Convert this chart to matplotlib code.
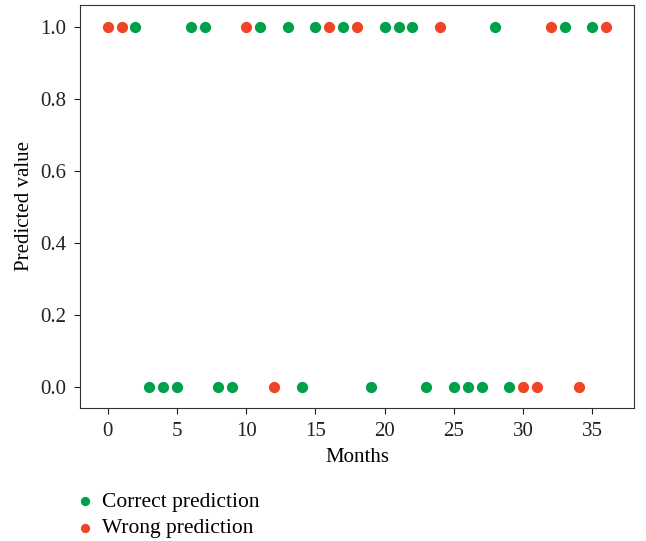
import matplotlib
matplotlib.use('agg')
import matplotlib.pyplot as plt
import numpy as np

plt.rcParams['font.family'] = ['Liberation Serif', 'DejaVu Serif']
plt.rcParams['font.size'] = 15

# month index and predicted class per month, split by outcome
meses_correctos = [2, 6, 7, 11, 13, 15, 17, 20, 21, 22, 28, 33, 35,
                   3, 4, 5, 8, 9, 14, 19, 23, 25, 26, 27, 29]
valores_correctos = [1, 1, 1, 1, 1, 1, 1, 1, 1, 1, 1, 1, 1,
                     0, 0, 0, 0, 0, 0, 0, 0, 0, 0, 0, 0]
meses_errados = [0, 1, 10, 16, 18, 24, 32, 36, 12, 30, 31, 34]
valores_errados = [1, 1, 1, 1, 1, 1, 1, 1, 0, 0, 0, 0]

verde = '#00A04A'
rojo = '#EF4426'

fig = plt.figure(figsize=(6.46, 5.41), dpi=100)
ax = fig.add_axes([0.1238, 0.2459, 0.8576, 0.7449])

ax.scatter(meses_correctos, valores_correctos, s=50, color=verde,
           label='Correct prediction', zorder=3)
ax.scatter(meses_errados, valores_errados, s=50, color=rojo,
           label='Wrong prediction', zorder=3)

ax.set_xlim(-2, 38)
ax.set_ylim(-0.057, 1.06)
ax.set_xticks(np.arange(0, 36, 5))
ax.set_yticks([0.0, 0.2, 0.4, 0.6, 0.8, 1.0])
ax.set_xlabel('Months', labelpad=5)
ax.set_ylabel('Predicted value', labelpad=4)
ax.tick_params(direction='out', length=4, width=0.8, pad=6, colors='#222222')
for lado in ax.spines.values():
    lado.set_color('#333333')

handles, labels = ax.get_legend_handles_labels()
fig.legend(handles, labels, loc='upper left', bbox_to_anchor=(0.105, 0.107),
           frameon=False, handlelength=0.8, handletextpad=0.4,
           labelspacing=0.3, borderaxespad=0, fontsize=15.5, markerscale=0.8)

fig.savefig('out.png', dpi=100)
